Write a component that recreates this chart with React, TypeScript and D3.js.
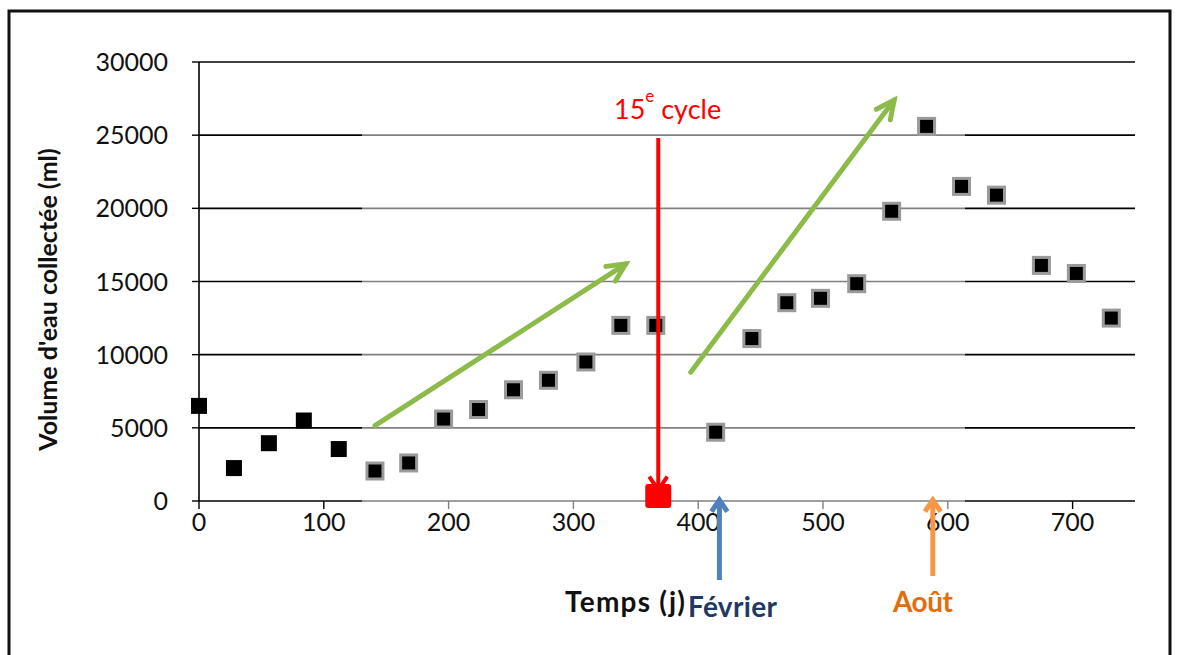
import React from 'react';
import * as d3 from 'd3';

// days and collected volume (ml)
const days = [0, 28, 56, 84, 112, 141, 168, 196, 224, 252, 280, 310, 338, 366, 414, 443, 471, 498, 527, 555, 583, 611, 639, 675, 703, 731];
const volumes = [6500, 2250, 3950, 5500, 3550, 2050, 2600, 5600, 6250, 7600, 8250, 9500, 12000, 12000, 4700, 11100, 13550, 13850, 14850, 19800, 25600, 21500, 20900, 16100, 15550, 12500];
const yTicks = [0, 5000, 10000, 15000, 20000, 25000, 30000];
const xTicks = [0, 100, 200, 300, 400, 500, 600, 700];

// annotation arrows in data units: [day0, vol0, day1, vol1]
const greenArrows = [
  [141, 5150, 342, 16200],
  [394, 8800, 557, 27400],
];
const cycleDay = 368;
const cycleMarkValue = 350;
const fevrierDay = 417;
const aoutDay = 588;

const W = 1177;
const H = 655;
const left = 199;
const right = 1135;
const top = 62;
const bottom = 501;

const FONT = "Lato, 'Open Sans', sans-serif";

const x = d3.scaleLinear().domain([0, 750]).range([left, right]);
const y = d3.scaleLinear().domain([0, 30000]).range([bottom, top]);

function head(x1: number, y1: number, x0: number, y0: number, len: number, spread: number) {
  const a = Math.atan2(y1 - y0, x1 - x0);
  const p1 = [x1 - len * Math.cos(a - spread), y1 - len * Math.sin(a - spread)];
  const p2 = [x1 - len * Math.cos(a + spread), y1 - len * Math.sin(a + spread)];
  return `M${p1[0]},${p1[1]}L${x1},${y1}L${p2[0]},${p2[1]}`;
}

const App: React.FC = () => {
  return (
    <svg width={W} height={H} style={{ position: 'absolute', left: 0, top: 0, background: '#fff' }}>
      <rect x={9} y={11} width={1161} height={660} fill="none" stroke="#111" strokeWidth={3} />

      {/* gridlines */}
      {yTicks.map(t => (
        <g key={t}>
          <line x1={left} x2={right} y1={y(t)} y2={y(t)} stroke="#000" strokeWidth={1.6} />
          <line x1={left - 7} x2={left} y1={y(t)} y2={y(t)} stroke="#000" strokeWidth={1.4} />
        </g>
      ))}
      <line x1={left} x2={left} y1={top} y2={bottom} stroke="#000" strokeWidth={1.6} />
      {xTicks.map(t => (
        <line key={t} x1={x(t)} x2={x(t)} y1={bottom} y2={bottom + 8} stroke="#000" strokeWidth={1.4} />
      ))}

      {/* washed-out area */}
      <rect x={362} y={70} width={603} height={440} fill="#fff" opacity={0.5} />

      {yTicks.map(t => (
        <text key={t} x={168} y={y(t)} dy="0.36em" textAnchor="end" fontFamily={FONT} fontSize={25} fill="#111">{t}</text>
      ))}
      {xTicks.map(t => (
        <text key={t} x={x(t)} y={531} textAnchor="middle" fontFamily={FONT} fontSize={25} fill="#111">{t}</text>
      ))}

      <text transform={`translate(57,${(top + bottom) / 2 + 18}) rotate(-90)`} textAnchor="middle" fontFamily={FONT} fontSize={25} fontWeight="bold" fill="#111">
        Volume d'eau collectée (ml)
      </text>

      {/* points */}
      {days.map((d, i) => (
        <rect key={i} x={x(d) - 8} y={y(volumes[i]) - 8} width={16} height={16} fill="#000"
          stroke={d >= 140 ? '#9a9a9a' : 'none'} strokeWidth={3} />
      ))}

      {/* green trend arrows */}
      {greenArrows.map((g, i) => {
        const [x0, y0, x1, y1] = [x(g[0]), y(g[1]), x(g[2]), y(g[3])];
        return (
          <g key={i} stroke="#8cbb4a" strokeWidth={5} fill="none" strokeLinecap="round">
            <line x1={x0} y1={y0} x2={x1} y2={y1} />
            <path d={head(x1, y1, x0, y0, 20, 0.45)} strokeLinejoin="miter" />
          </g>
        );
      })}

      {/* 15e cycle */}
      <g stroke="#f00" strokeWidth={4} fill="none">
        <line x1={x(cycleDay)} x2={x(cycleDay)} y1={138} y2={y(cycleMarkValue) - 6} />
        <path d={head(x(cycleDay), y(cycleMarkValue) - 6, x(cycleDay), 138, 16, 0.6)} />
      </g>
      <rect x={x(cycleDay) - 13} y={y(cycleMarkValue) - 12} width={26} height={24} rx={3} fill="#f00" />
      <text x={614} y={119} fontFamily={FONT} fontSize={27} fill="#f00">
        15<tspan dy={-17} fontSize={17}>e</tspan><tspan dy={17}> cycle</tspan>
      </text>

      {/* month arrows */}
      <g stroke="#4f81bd" strokeWidth={5} fill="none">
        <line x1={x(fevrierDay)} x2={x(fevrierDay)} y1={580} y2={500} />
        <path d={head(x(fevrierDay), 500, x(fevrierDay), 580, 14, 0.6)} />
      </g>
      <g stroke="#f79646" strokeWidth={5} fill="none">
        <line x1={x(aoutDay)} x2={x(aoutDay)} y1={576} y2={500} />
        <path d={head(x(aoutDay), 500, x(aoutDay), 576, 14, 0.6)} />
      </g>

      <text x={565} y={612} textLength={120} fontFamily={FONT} fontSize={28} fontWeight="bold" fill="#111">Temps (j)</text>
      <text x={688} y={617} textLength={89} fontFamily={FONT} fontSize={28} fontWeight="bold" fill="#1f3864">Février</text>
      <text x={893} y={612} textLength={60} fontFamily={FONT} fontSize={28} fontWeight="bold" fill="#e46c0a">Août</text>
    </svg>
  );
};

export default App;
